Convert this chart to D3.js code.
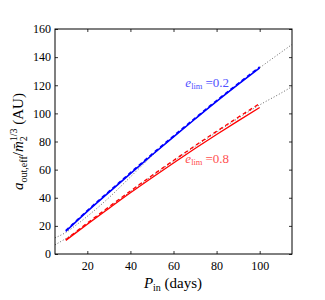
<!DOCTYPE html>
<html>
<head>
<meta charset="utf-8">
<script src="https://cdn.jsdelivr.net/npm/d3@7"></script>
<style>
  body { margin: 0; background: #fff; }
  text { font-family: "Liberation Serif", "DejaVu Serif", serif; }
</style>
</head>
<body>
<div id="chart"></div>
<script>
// values
const pIn = [10, 20, 30, 40, 50, 60, 70, 80, 90, 100];
const blueSolid = [16.1, 30.3, 43.8, 57.2, 70.4, 83.3, 96.0, 108.5, 120.6, 132.4];
const blueDashed = [16.6, 30.9, 44.4, 57.8, 71.0, 83.9, 96.6, 109.1, 121.2, 133.0];
const redSolid = [9.7, 21.2, 32.4, 43.5, 54.2, 64.7, 75.0, 85.0, 94.7, 104.2];
const redDashed = [10.2, 22.0, 33.5, 44.8, 55.8, 66.5, 77.0, 87.2, 97.2, 107.0];
const pFit = [5, 10, 15, 20, 30, 40, 50, 60, 70, 80, 90, 100, 110, 115];
const fitHigh = [11.5, 15.3, 20.8, 26.8, 40.0, 54.8, 69.8, 83.3, 96.0, 108.5, 120.6, 132.4, 143.5, 149.0];
const fitLow = [6.5, 11.0, 16.0, 21.5, 33.0, 44.3, 55.3, 66.0, 76.5, 86.6, 96.5, 106.0, 114.5, 119.0];
const xTicks = [20, 40, 60, 80, 100];
const yTicks = [0, 20, 40, 60, 80, 100, 120, 140, 160];
const labels = [
  { lim: '0.2', p: 65.5, a: 119, color: '#5050ff' },
  { lim: '0.8', p: 65.5, a: 65, color: '#ff5050' }
];

const width = 325, height = 300;
const margin = { top: 29, right: 33, bottom: 46, left: 55 };
const w = width - margin.left - margin.right;
const h = height - margin.top - margin.bottom;

const x = d3.scaleLinear().domain([5, 115]).range([0, w]);
const y = d3.scaleLinear().domain([0, 160]).range([h, 0]);

const svg = d3.select('#chart').append('svg')
  .attr('width', width)
  .attr('height', height);

const g = svg.append('g')
  .attr('transform', `translate(${margin.left},${margin.top})`);

// axes with inward ticks on all sides
const tickLen = 3;
g.append('g')
  .attr('transform', `translate(0,${h})`)
  .call(d3.axisBottom(x).tickValues(xTicks).tickSize(-tickLen).tickPadding(7))
  .call(a => a.selectAll('text').style('font-size', '12px').attr('fill', '#000'));
g.append('g')
  .call(d3.axisTop(x).tickValues(xTicks).tickSize(-tickLen).tickFormat(() => ''));
g.append('g')
  .call(d3.axisLeft(y).tickValues(yTicks).tickSize(-tickLen).tickPadding(4))
  .call(a => a.selectAll('text').style('font-size', '12px').attr('fill', '#000'));
g.append('g')
  .attr('transform', `translate(${w},0)`)
  .call(d3.axisRight(y).tickValues(yTicks).tickSize(-tickLen).tickFormat(() => ''));
g.selectAll('.domain').remove();
g.selectAll('.tick line').attr('stroke', '#000').attr('stroke-width', 0.8);

const line = d3.line()
  .x(d => x(d[0]))
  .y(d => y(d[1]))
  .curve(d3.curveMonotoneX);

const zip = (ps, vs) => ps.map((p, i) => [p, vs[i]]);

const series = [
  { pts: zip(pFit, fitHigh), color: '#555', widthPx: 0.9, dash: '1,2' },
  { pts: zip(pFit, fitLow), color: '#555', widthPx: 0.9, dash: '1,2' },
  { pts: zip(pIn, redSolid), color: '#ff0000', widthPx: 1.3, dash: null },
  { pts: zip(pIn, redDashed), color: '#ff0000', widthPx: 1.3, dash: '4,3' },
  { pts: zip(pIn, blueSolid), color: '#0000ff', widthPx: 1.6, dash: null },
  { pts: zip(pIn, blueDashed), color: '#0000ff', widthPx: 1.6, dash: '4,3' }
];

g.selectAll('.curve')
  .data(series)
  .join('path')
  .attr('class', 'curve')
  .attr('d', d => line(d.pts))
  .attr('fill', 'none')
  .attr('stroke', d => d.color)
  .attr('stroke-width', d => d.widthPx)
  .attr('stroke-dasharray', d => d.dash);

// frame
g.append('rect')
  .attr('width', w)
  .attr('height', h)
  .attr('fill', 'none')
  .attr('stroke', '#000')
  .attr('stroke-width', 1);

// e_lim annotations
labels.forEach(l => {
  const t = g.append('text')
    .attr('x', x(l.p))
    .attr('y', y(l.a))
    .attr('fill', l.color)
    .style('font-size', '13px');
  t.append('tspan').style('font-style', 'italic').text('e');
  t.append('tspan').attr('dy', 2.5).style('font-size', '8.5px').text('lim');
  t.append('tspan').attr('dy', -2.5).attr('dx', 3).text('=' + l.lim);
});

// x label
const xl = svg.append('text')
  .attr('x', 173)
  .attr('y', 288)
  .attr('text-anchor', 'middle')
  .style('font-size', '15px');
xl.append('tspan').style('font-style', 'italic').text('P');
xl.append('tspan').attr('dy', 3).style('font-size', '10px').text('in');
xl.append('tspan').attr('dy', -3).text(' (days)');

// y label
const yl = svg.append('text')
  .attr('transform', `translate(23,${margin.top + h / 2}) rotate(-90)`)
  .attr('text-anchor', 'middle')
  .style('font-size', '15px');
yl.append('tspan').style('font-style', 'italic').text('a');
yl.append('tspan').attr('dy', 3.5).style('font-size', '10px').text('out,eff');
yl.append('tspan').attr('dy', -3.5).text('/');
yl.append('tspan').style('font-style', 'italic').text('m\u0304');
yl.append('tspan').attr('dy', 3.5).style('font-size', '10px').text('2');
yl.append('tspan').attr('dy', -10).attr('dx', -5).style('font-size', '10px').text('1/3');
yl.append('tspan').attr('dy', 6.5).text(' (AU)');
</script>
</body>
</html>
